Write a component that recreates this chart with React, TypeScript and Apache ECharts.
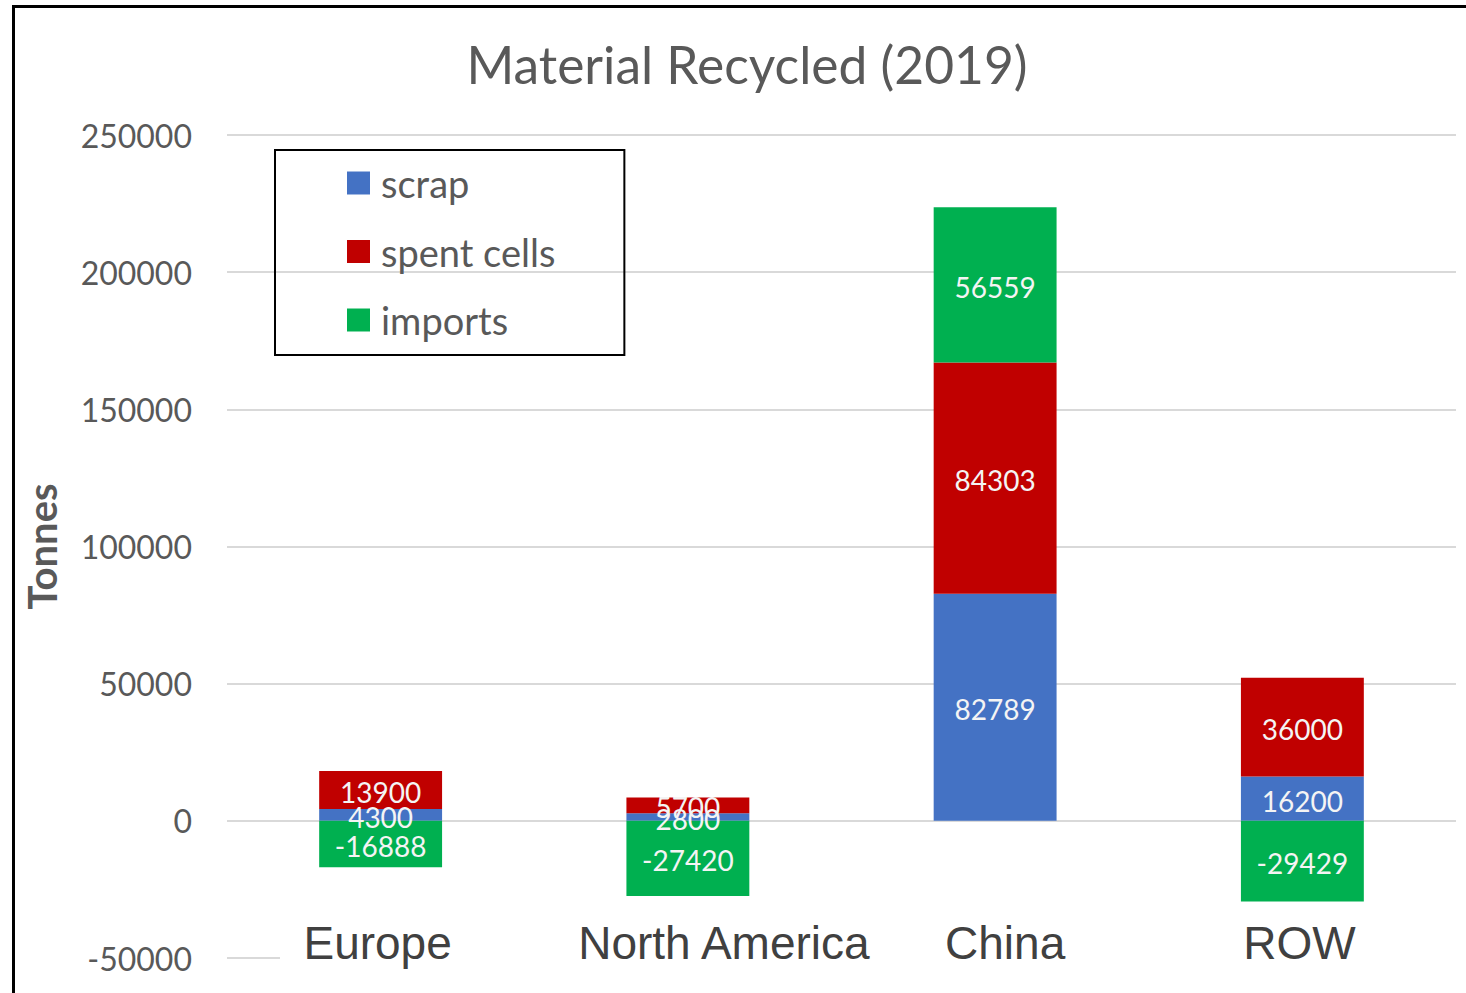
import React, { useEffect, useRef } from "react";
import * as echarts from "echarts";

const categories = ["Europe", "North America", "China", "ROW"];
const scrap = [4300, 2800, 82789, 16200];
const spentCells = [13900, 5700, 84303, 36000];
const imports = [-16888, -27420, 56559, -29429];
const yTicks = { min: -50000, max: 250000, interval: 50000 };

const labelKeys = ["eu", "na", "cn", "row"];

export default function App() {
  const ref = useRef<HTMLDivElement>(null);
  useEffect(() => {
    if (!ref.current) return;
    const chart = echarts.init(ref.current, undefined, { renderer: "svg" });
    const dataLabel = {
      show: true,
      position: "inside",
      color: "#f4f4f4",
      fontFamily: "Lato",
      fontSize: 28,
      offset: [0, 2],
    };
    chart.setOption({
      animation: false,
      backgroundColor: "#ffffff",
      title: {
        text: "Material Recycled (2019)",
        left: 742,
        textAlign: "center",
        top: 33,
        textStyle: { fontFamily: "Lato", fontSize: 51.5, fontWeight: "normal", color: "#595959" },
      },
      legend: {
        orient: "vertical",
        left: 275,
        top: 150,
        padding: [14, 69, 16, 72],
        itemWidth: 23,
        itemHeight: 23,
        itemGap: 30.5,
        icon: "rect",
        borderColor: "#000000",
        borderWidth: 2,
        textStyle: { fontFamily: "Lato", fontSize: 38, color: "#595959", padding: [0, 0, 0, 6] },
        data: ["scrap", "spent cells", "imports"],
      },
      grid: { left: 227, right: 10, top: 135, bottom: 35, containLabel: false },
      xAxis: {
        type: "category",
        data: categories,
        axisLine: { show: false, onZero: false },
        axisTick: { show: false },
        axisLabel: {
          margin: -38,
          fontFamily: "Liberation Sans",
          fontSize: 46,
          color: "#404040",
          interval: 0,
          formatter: (v: string, i: number) => `{${labelKeys[i]}|${v}}`,
          rich: {
            eu: { fontFamily: "Liberation Sans", fontSize: 46, color: "#404040", padding: [0, 6, 0, 0] },
            na: { fontFamily: "Liberation Sans", fontSize: 46, color: "#404040", padding: [0, 0, 0, 72] },
            cn: { fontFamily: "Liberation Sans", fontSize: 46, color: "#404040", padding: [0, 0, 0, 20] },
            row: { fontFamily: "Liberation Sans", fontSize: 46, color: "#404040", padding: [0, 6, 0, 0] },
          },
        },
      },
      yAxis: {
        type: "value",
        min: yTicks.min,
        max: yTicks.max,
        interval: yTicks.interval,
        name: "Tonnes",
        nameLocation: "middle",
        nameGap: 165,
        nameTextStyle: { fontFamily: "Lato", fontSize: 40, fontWeight: "bold", color: "#595959" },
        axisLine: { show: false },
        axisTick: { show: false },
        axisLabel: {
          margin: 35,
          fontFamily: "Lato",
          fontSize: 32,
          color: "#595959",
          formatter: (v: number) => String(v),
        },
        splitLine: { show: true, showMinLine: false, lineStyle: { color: "#d9d9d9", width: 2 } },
      },
      graphic: [
        {
          type: "line",
          shape: { x1: 227, y1: 958, x2: 280, y2: 958 },
          style: { stroke: "#d9d9d9", lineWidth: 2 },
        },
      ],
      series: [
        {
          name: "scrap",
          type: "bar",
          stack: "total",
          barWidth: "40%",
          data: scrap,
          itemStyle: { color: "#4472C4" },
          label: dataLabel,
        },
        {
          name: "spent cells",
          type: "bar",
          stack: "total",
          barWidth: "40%",
          data: spentCells,
          itemStyle: { color: "#C00000" },
          label: dataLabel,
        },
        {
          name: "imports",
          type: "bar",
          stack: "total",
          barWidth: "40%",
          data: imports,
          itemStyle: { color: "#00B050" },
          label: dataLabel,
        },
      ],
    });
    return () => chart.dispose();
  }, []);
  return (
    <div style={{ position: "fixed", left: 0, top: 0, width: 1466, height: 993, overflow: "hidden", background: "#fff" }}>
      <div ref={ref} style={{ position: "absolute", left: 0, top: 0, width: 1466, height: 993 }} />
      <div
        style={{
          position: "absolute",
          left: 12,
          top: 5,
          width: 1500,
          height: 1100,
          borderLeft: "3px solid #000",
          borderTop: "3px solid #000",
          pointerEvents: "none",
        }}
      />
    </div>
  );
}
